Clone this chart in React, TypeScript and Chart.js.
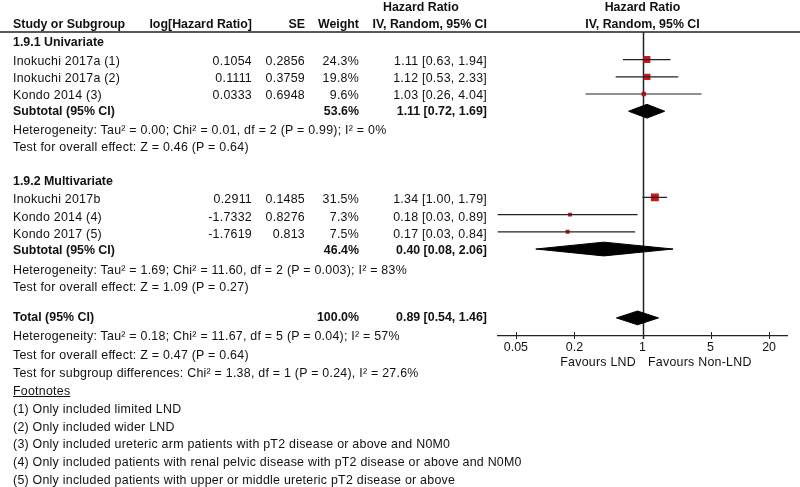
import React, { useEffect, useRef } from "react";
import { Chart, registerables } from "chart.js";

Chart.register(...registerables);

// ---------- data ----------
const studyNames = [
  "Inokuchi 2017a (1)",
  "Inokuchi 2017a (2)",
  "Kondo 2014 (3)",
  "Inokuchi 2017b",
  "Kondo 2014 (4)",
  "Kondo 2017 (5)",
];
const logHR = [0.1054, 0.1111, 0.0333, 0.2911, -1.7332, -1.7619];
const seValues = [0.2856, 0.3759, 0.6948, 0.1485, 0.8276, 0.813];
const weightPct = [24.3, 19.8, 9.6, 31.5, 7.3, 7.5];
const hrEst = [1.11, 1.12, 1.03, 1.34, 0.18, 0.17];
const hrLow = [0.63, 0.53, 0.26, 1.0, 0.03, 0.03];
const hrHigh = [1.94, 2.33, 4.04, 1.79, 0.89, 0.84];
const studyRows = [3, 4, 5, 11, 12, 13];

const pooledLabels = ["Subtotal (95% CI)", "Subtotal (95% CI)", "Total (95% CI)"];
const pooledWeight = ["53.6%", "46.4%", "100.0%"];
const pooledEst = [1.11, 0.4, 0.89];
const pooledLow = [0.72, 0.08, 0.54];
const pooledHigh = [1.69, 2.06, 1.46];
const pooledRows = [6, 14, 18];

const groupTitles = ["1.9.1 Univariate", "1.9.2 Multivariate"];
const groupStats = [
  "Heterogeneity: Tau\u00b2 = 0.00; Chi\u00b2 = 0.01, df = 2 (P = 0.99); I\u00b2 = 0%",
  "Test for overall effect: Z = 0.46 (P = 0.64)",
  "Heterogeneity: Tau\u00b2 = 1.69; Chi\u00b2 = 11.60, df = 2 (P = 0.003); I\u00b2 = 83%",
  "Test for overall effect: Z = 1.09 (P = 0.27)",
];
const totalStats = [
  "Heterogeneity: Tau\u00b2 = 0.18; Chi\u00b2 = 11.67, df = 5 (P = 0.04); I\u00b2 = 57%",
  "Test for overall effect: Z = 0.47 (P = 0.64)",
  "Test for subgroup differences: Chi\u00b2 = 1.38, df = 1 (P = 0.24), I\u00b2 = 27.6%",
];
const footnotes = [
  "(1) Only included limited LND",
  "(2) Only included wider LND",
  "(3) Only included ureteric arm patients with pT2 disease or above and N0M0",
  "(4) Only included patients with renal pelvic disease with pT2 disease or above and N0M0",
  "(5) Only included patients with upper or middle ureteric pT2 disease or above",
];
const xTicks = [0.05, 0.2, 1, 5, 20];
const favourLabels = ["Favours LND", "Favours Non-LND"];

// ---------- layout constants ----------
const W = 800;
const H = 487;
const FONT = '"Liberation Sans", Arial, Helvetica, sans-serif';
const FS = 12.4;
const TEXT = "#111";
const LINE = "#222";
const RED = "#c8161d";
const PLOT_LEFT = 497.7;
const PLOT_RIGHT = 787.3;
const PLOT_TOP = 32;
const PLOT_BOTTOM = 336;
const XAXIS_H = 30;
const ROW_MIN = 1.4;
const ROW_MAX = 19.05;
const X_MIN = 0.0325;
const X_MAX = 1 / 0.0325;
const DIAMOND_H = 0.4;

// text columns
const COL_NAME = 13;
const COL_LOG = 252;
const COL_SE = 305;
const COL_W = 359;
const COL_CI = 487;

const studyTextY = [60.5, 77.5, 94.5, 199, 216.5, 233.5];
const pooledTextY = [110.5, 249.5, 317];
const groupTitleY = [41.5, 180.5];
const groupStatY = [129.5, 146.5, 269.5, 287];
const totalStatY = [336, 355, 373];
const footTitleY = 391;
const footY = [409, 426.5, 444, 461.5, 479.5];

type TProps = {
  x: number;
  y: number;
  text: string;
  align?: "left" | "right" | "center";
  bold?: boolean;
  underline?: boolean;
};

function T({ x, y, text, align = "left", bold, underline }: TProps) {
  const style: React.CSSProperties = {
    position: "absolute",
    top: y - 7,
    lineHeight: "14px",
    fontSize: FS,
    fontFamily: FONT,
    fontWeight: bold ? "bold" : "normal",
    letterSpacing: bold ? "0px" : "0.25px",
    textDecoration: underline ? "underline" : "none",
    whiteSpace: "nowrap",
    color: TEXT,
  };
  if (align === "left") style.left = x;
  else if (align === "right") style.right = W - x;
  else {
    style.left = x - 200;
    style.width = 400;
    style.textAlign = "center";
  }
  return <div style={style}>{text}</div>;
}

const ciText = (e: number, l: number, h: number) =>
  `${e.toFixed(2)} [${l.toFixed(2)}, ${h.toFixed(2)}]`;

const forestDecor = {
  id: "forestDecor",
  beforeDatasetsDraw(chart: any) {
    const { ctx, chartArea, scales } = chart;
    const x = scales.x;
    const px = Math.round(x.getPixelForValue(1)) + 0.5;
    ctx.save();
    ctx.strokeStyle = LINE;
    ctx.lineWidth = 1.5;
    ctx.beginPath();
    ctx.moveTo(px, chartArea.top);
    ctx.lineTo(px, chartArea.bottom + 3);
    ctx.stroke();
    ctx.lineWidth = 1.6;
    ctx.beginPath();
    ctx.moveTo(0, chartArea.top);
    ctx.lineTo(chart.width, chartArea.top);
    ctx.stroke();
    ctx.restore();
  },
  afterDraw(chart: any) {
    const { ctx, chartArea, scales } = chart;
    const x = scales.x;
    ctx.save();
    ctx.strokeStyle = LINE;
    ctx.lineWidth = 1;
    x.ticks.forEach((t: any) => {
      const p = Math.round(x.getPixelForValue(t.value)) + 0.5;
      ctx.beginPath();
      ctx.moveTo(p, chartArea.bottom - 4);
      ctx.lineTo(p, chartArea.bottom + 3);
      ctx.stroke();
    });
    ctx.restore();
  },
};

export default function App() {
  const canvasRef = useRef<HTMLCanvasElement | null>(null);

  useEffect(() => {
    if (!canvasRef.current) return;
    const datasets: any[] = [];
    // confidence interval lines
    hrEst.forEach((_, i) => {
      datasets.push({
        type: "line",
        data: [
          { x: hrLow[i], y: studyRows[i] },
          { x: hrHigh[i], y: studyRows[i] },
        ],
        borderColor: LINE,
        borderWidth: 1.2,
        pointRadius: 0,
        fill: false,
      });
    });
    // study squares
    datasets.push({
      type: "scatter",
      data: hrEst.map((v, i) => ({ x: v, y: studyRows[i] })),
      pointStyle: "rect",
      pointRadius: weightPct.map((w) => Math.sqrt(w)),
      backgroundColor: RED,
      borderColor: RED,
      borderWidth: 0,
    });
    // pooled diamonds
    pooledEst.forEach((e, i) => {
      const r = pooledRows[i];
      datasets.push({
        type: "line",
        data: [
          { x: pooledLow[i], y: r },
          { x: e, y: r - DIAMOND_H },
          { x: pooledHigh[i], y: r },
          { x: e, y: r + DIAMOND_H },
          { x: pooledLow[i], y: r },
        ],
        borderColor: "#000",
        backgroundColor: "#000",
        borderWidth: 1,
        pointRadius: 0,
        tension: 0,
        fill: "shape",
      });
    });

    const chart = new Chart(canvasRef.current, {
      type: "scatter",
      data: { datasets },
      plugins: [forestDecor],
      options: {
        responsive: false,
        animation: false,
        devicePixelRatio: 1,
        events: [],
        layout: {
          padding: {
            left: PLOT_LEFT,
            right: W - PLOT_RIGHT,
            top: PLOT_TOP,
            bottom: H - PLOT_BOTTOM - XAXIS_H,
          },
        },
        plugins: {
          legend: { display: false },
          tooltip: { enabled: false },
          title: { display: false },
        },
        scales: {
          x: {
            type: "logarithmic",
            position: "bottom",
            min: X_MIN,
            max: X_MAX,
            afterBuildTicks: (scale: any) => {
              scale.ticks = xTicks.map((v) => ({ value: v }));
            },
            afterFit: (scale: any) => {
              scale.height = XAXIS_H;
            },
            grid: { display: false, drawTicks: false },
            border: { display: true, color: LINE, width: 1.2 },
            ticks: {
              autoSkip: false,
              maxRotation: 0,
              padding: 4,
              color: TEXT,
              font: { family: FONT, size: FS },
              callback: (v: any) => String(v),
            },
          },
          y: {
            type: "linear",
            reverse: true,
            min: ROW_MIN,
            max: ROW_MAX,
            display: false,
          },
        },
      } as any,
    });
    return () => chart.destroy();
  }, []);

  const onePx = (PLOT_LEFT + PLOT_RIGHT) / 2;

  return (
    <div
      style={{
        position: "absolute",
        left: 0,
        top: 0,
        width: W,
        height: H,
        background: "#fff",
        overflow: "hidden",
      }}
    >
      <canvas
        ref={canvasRef}
        width={W}
        height={H}
        style={{ position: "absolute", left: 0, top: 0, width: W, height: H, display: "block" }}
      />
      {/* headers */}
      <T x={383} y={6.5} text="Hazard Ratio" bold />
      <T x={onePx} y={6.5} text="Hazard Ratio" bold align="center" />
      <T x={COL_NAME} y={23.5} text="Study or Subgroup" bold />
      <T x={COL_LOG} y={23.5} text="log[Hazard Ratio]" bold align="right" />
      <T x={COL_SE} y={23.5} text="SE" bold align="right" />
      <T x={COL_W} y={23.5} text="Weight" bold align="right" />
      <T x={COL_CI} y={23.5} text="IV, Random, 95% CI" bold align="right" />
      <T x={onePx} y={23.5} text="IV, Random, 95% CI" bold align="center" />

      {groupTitles.map((g, i) => (
        <T key={"g" + i} x={COL_NAME} y={groupTitleY[i]} text={g} bold />
      ))}

      {studyNames.map((n, i) => (
        <React.Fragment key={"s" + i}>
          <T x={COL_NAME} y={studyTextY[i]} text={n} />
          <T x={COL_LOG} y={studyTextY[i]} text={String(logHR[i])} align="right" />
          <T x={COL_SE} y={studyTextY[i]} text={String(seValues[i])} align="right" />
          <T x={COL_W} y={studyTextY[i]} text={weightPct[i].toFixed(1) + "%"} align="right" />
          <T
            x={COL_CI}
            y={studyTextY[i]}
            text={ciText(hrEst[i], hrLow[i], hrHigh[i])}
            align="right"
          />
        </React.Fragment>
      ))}

      {pooledLabels.map((p, i) => (
        <React.Fragment key={"p" + i}>
          <T x={COL_NAME} y={pooledTextY[i]} text={p} bold />
          <T x={COL_W} y={pooledTextY[i]} text={pooledWeight[i]} bold align="right" />
          <T
            x={COL_CI}
            y={pooledTextY[i]}
            text={ciText(pooledEst[i], pooledLow[i], pooledHigh[i])}
            bold
            align="right"
          />
        </React.Fragment>
      ))}

      {groupStats.map((s, i) => (
        <T key={"gs" + i} x={COL_NAME} y={groupStatY[i]} text={s} />
      ))}
      {totalStats.map((s, i) => (
        <T key={"ts" + i} x={COL_NAME} y={totalStatY[i]} text={s} />
      ))}
      <T x={COL_NAME} y={footTitleY} text="Footnotes" underline />
      {footnotes.map((f, i) => (
        <T key={"f" + i} x={COL_NAME} y={footY[i]} text={f} />
      ))}

      <T x={636} y={362.3} text={favourLabels[0]} align="right" />
      <T x={648} y={362.3} text={favourLabels[1]} />
    </div>
  );
}
